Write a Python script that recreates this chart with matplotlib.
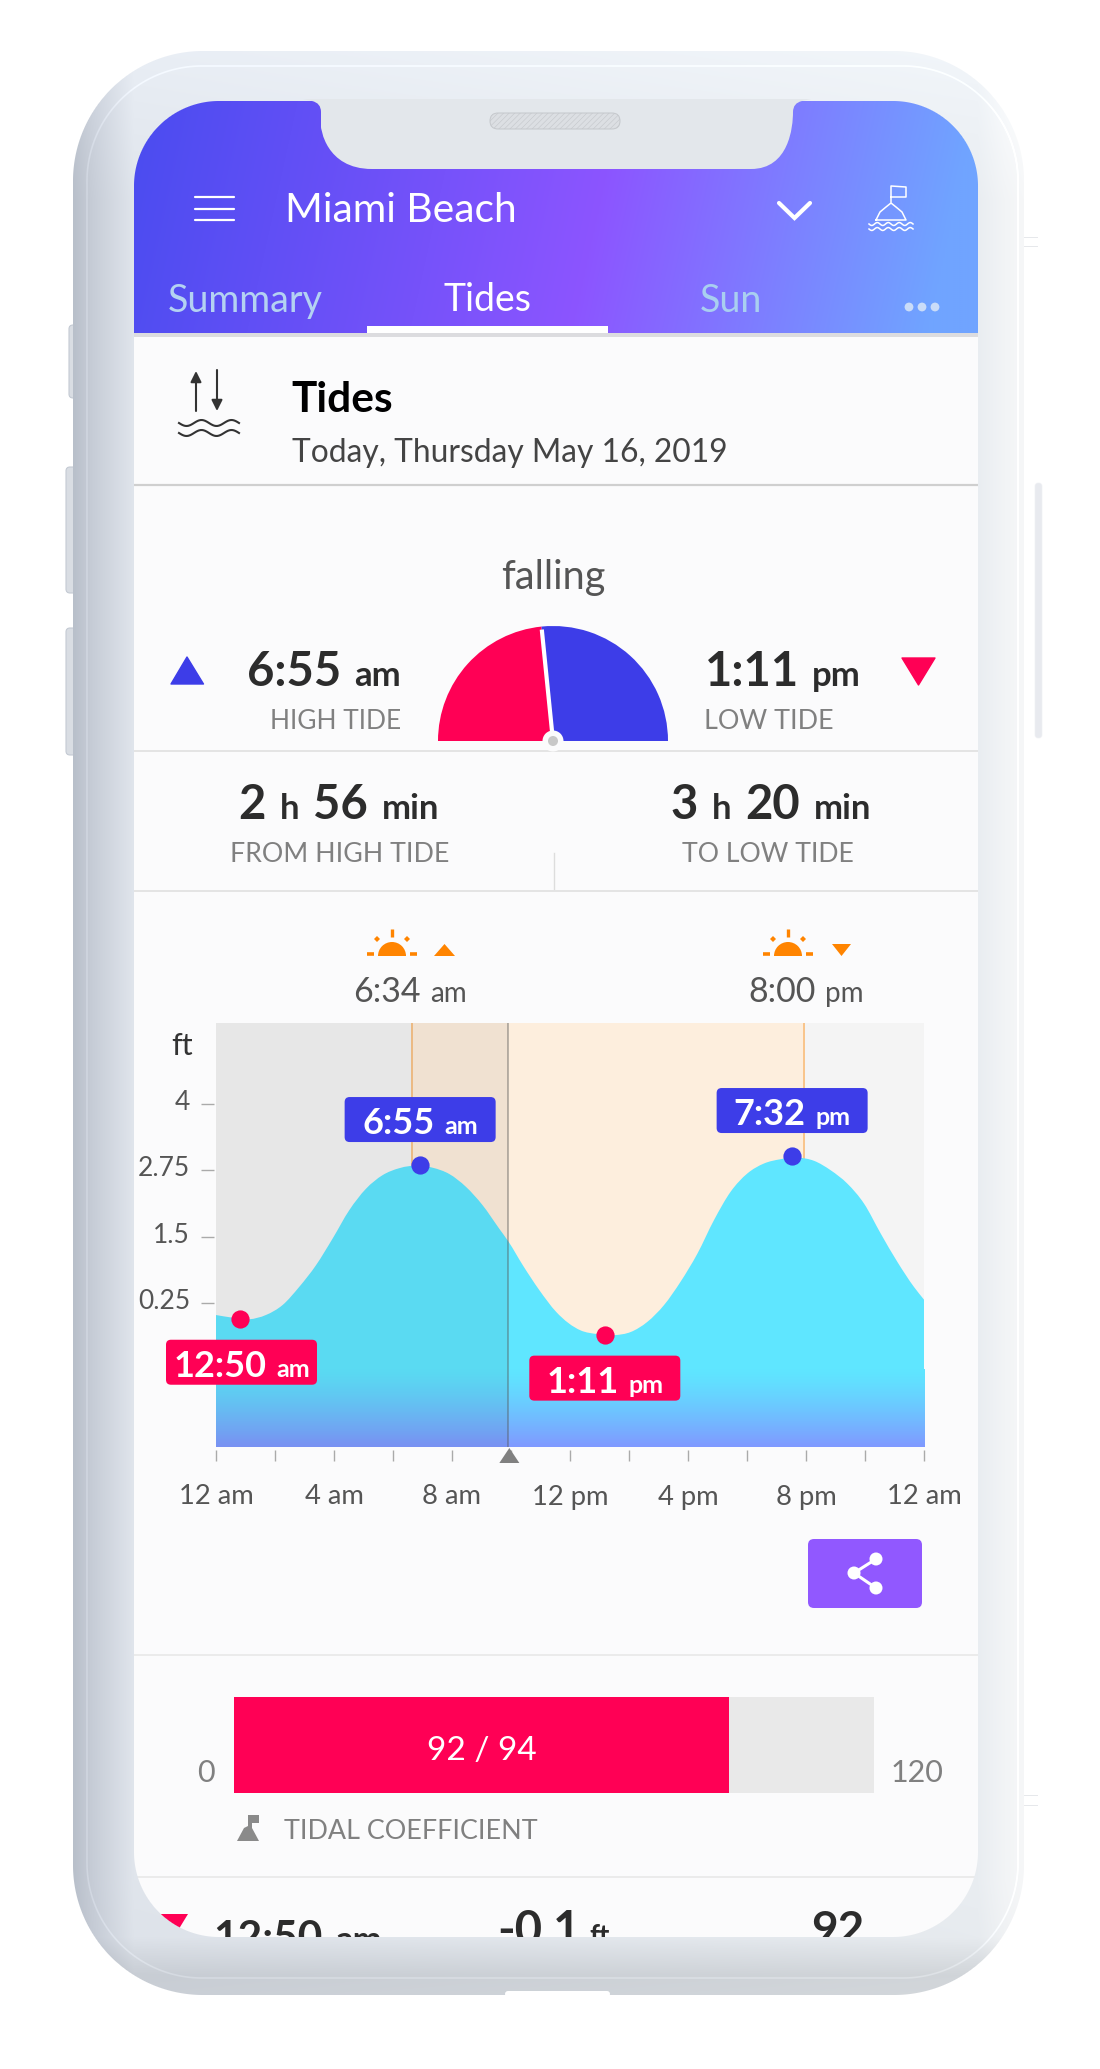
# -*- coding: utf-8 -*-
"""Tide app screen on a phone mockup, drawn in pixel coordinates plus one real chart axes."""

import numpy as np
import matplotlib
matplotlib.use("Agg")
import matplotlib.pyplot as plt
from matplotlib.patches import FancyBboxPatch, PathPatch, Polygon, Wedge, Circle, Rectangle
from matplotlib.path import Path

plt.rcParams["font.family"] = ["Lato", "DejaVu Sans"]
plt.rcParams["hatch.linewidth"] = 0.4

W, H = 1100, 2069

# --- tide curve ---
hours = [0, 0.56, 1.13, 1.69, 2.26, 2.82, 3.39, 3.95, 4.52, 5.08, 5.65, 6.21, 6.89, 7.34, 7.91,
         8.47, 9.04, 9.60, 9.92, 10.40, 10.96, 11.53, 12.36, 12.93, 13.49, 14.06, 14.62, 15.19,
         15.75, 16.32, 16.88, 17.45, 18.01, 18.58, 19.14, 19.71, 20.27, 20.84, 21.40, 21.97,
         22.53, 23.10, 23.66, 24]
tide_ft = [0.02, -0.03, -0.06, 0.02, 0.21, 0.55, 0.96, 1.46, 2.00, 2.40, 2.66, 2.79, 2.84, 2.80, 2.68,
           2.44, 2.09, 1.65, 1.40, 0.96, 0.49, 0.08, -0.27, -0.34, -0.36, -0.30, -0.11, 0.21,
           0.65, 1.18, 1.81, 2.35, 2.69, 2.88, 2.96, 2.99, 2.93, 2.75, 2.50, 2.12,
           1.56, 1.02, 0.55, 0.31]

tide_names = ["12:50", "6:55", "1:11", "7:32"]
tide_units = ["am", "am", "pm", "pm"]
tide_hours = [0.83, 6.92, 13.18, 19.53]
tide_values = [-0.05, 2.85, -0.35, 3.02]
tide_is_high = [False, True, False, True]

sunrise_hour = 6.64
sunset_hour = 19.94
now_hour = 9.91

y_ticks = [4, 2.75, 1.5, 0.25]
y_tick_labels = ["4", "2.75", "1.5", "0.25"]
x_ticks = list(range(0, 25, 2))
x_tick_labels = ["12 am", "", "4 am", "", "8 am", "", "12 pm", "", "4 pm", "", "8 pm", "", "12 am"]

from_high_min = 176
to_low_min = 200

coef_max = 120
coef_bar = 92.8

RED = "#ff0055"
BLUE = "#3d3de8"
ORANGE = "#ff8400"
PURPLE = "#9158ff"
DARK = "#2c2c2c"
GREY = "#808080"
MID = "#555555"
RULE = "#ebebeb"


def pixel_axes(zorder):
    a = fig.add_axes([0, 0, 1, 1], zorder=zorder)
    a.set_xlim(0, W)
    a.set_ylim(H, 0)
    a.axis("off")
    a.patch.set_alpha(0)
    return a


def rect_axes(x0, y0, x1, y1, zorder=2):
    return fig.add_axes([x0 / W, 1 - y1 / H, (x1 - x0) / W, (y1 - y0) / H], zorder=zorder)


def runs(ax, x, y, parts, align="left", gap=13, color=DARK, zorder=5):
    """Text pieces of different sizes on one baseline; x is the left, right or centre of the row."""
    rend = fig.canvas.get_renderer()
    items = []
    for s, size, weight in parts:
        t = ax.text(0, y, s, fontsize=size, fontweight=weight, color=color,
                    ha="left", va="baseline", zorder=zorder)
        items.append((t, t.get_window_extent(rend).width))
    total = sum(w for _, w in items) + gap * (len(items) - 1)
    cur = x
    if align == "center":
        cur = x - total / 2
    elif align == "right":
        cur = x - total
    for t, w in items:
        t.set_x(cur)
        cur += w + gap


def rule(ax, y, x0=134, x1=978, color=RULE, lw=1.4):
    ax.plot([x0, x1], [y, y], color=color, lw=lw, solid_capstyle="butt", zorder=3)


def rounded_sdf(px, py, x0, y0, x1, y1, r):
    qx = np.abs(px - (x0 + x1) / 2) - (x1 - x0) / 2 + r
    qy = np.abs(py - (y0 + y1) / 2) - (y1 - y0) / 2 + r
    return np.hypot(np.maximum(qx, 0), np.maximum(qy, 0)) + np.minimum(np.maximum(qx, qy), 0) - r


def smooth_area(xv, yv, floor):
    """Closed bezier path through the points, down to floor."""
    xv = np.asarray(xv, float)
    yv = np.asarray(yv, float)
    slope = np.gradient(yv, xv)
    verts = [(xv[0], floor), (xv[0], yv[0])]
    codes = [Path.MOVETO, Path.LINETO]
    for i in range(len(xv) - 1):
        dx = xv[i + 1] - xv[i]
        verts += [(xv[i] + dx / 3, yv[i] + slope[i] * dx / 3),
                  (xv[i + 1] - dx / 3, yv[i + 1] - slope[i + 1] * dx / 3),
                  (xv[i + 1], yv[i + 1])]
        codes += [Path.CURVE4] * 3
    verts += [(xv[-1], floor), (xv[0], floor)]
    codes += [Path.LINETO, Path.CLOSEPOLY]
    return Path(verts, codes)


def sun_icon(ax, cx, base=956):
    ax.add_patch(Wedge((cx, base), 14, 180, 360, color=ORANGE, lw=0, zorder=4))
    ax.plot([cx, cx], [929, 937], color=ORANGE, lw=2.4, solid_capstyle="butt", zorder=4)
    for dx in (-15, 15):
        ax.add_patch(Polygon([(cx + dx - 3, 939), (cx + dx, 936), (cx + dx + 3, 939), (cx + dx, 942)],
                             color=ORANGE, lw=0, zorder=4))
    ax.plot([cx - 25, cx - 18], [954, 954], color=ORANGE, lw=2.6, solid_capstyle="butt", zorder=4)
    ax.plot([cx + 18, cx + 25], [954, 954], color=ORANGE, lw=2.6, solid_capstyle="butt", zorder=4)


def wave(ax, x0, x1, y, amp, color, lw, periods=2):
    xs = np.linspace(x0, x1, 40)
    ax.plot(xs, y + amp * np.sin(np.linspace(0, 2 * np.pi * periods, 40)), color=color, lw=lw, zorder=4)


fig = plt.figure(figsize=(W / 100, H / 100), dpi=100, facecolor="white")
page = pixel_axes(1)
over = pixel_axes(4)

# side buttons behind the body
for x0, y0, x1, y1 in [(69, 325, 80, 398), (66, 467, 80, 593), (66, 628, 80, 755)]:
    page.add_patch(FancyBboxPatch((x0, y0), x1 - x0, y1 - y0, boxstyle="round,pad=0,rounding_size=4",
                                  fc="#d9dde3", ec="#c4cad3", lw=0.8, zorder=1))
page.add_patch(FancyBboxPatch((1035, 483), 7, 255, boxstyle="round,pad=0,rounding_size=3",
                              fc="#e8eaef", ec="#f0f1f4", lw=0.5, zorder=1))
for y in (237, 246, 1795, 1805):
    page.plot([1024, 1037], [y, y], color="#e6e8eb", lw=0.7, zorder=1)

# screen background and header gradient
page.add_patch(Rectangle((130, 97), 852, 1845, fc="#fbfbfc", lw=0, zorder=1))
gx, gy = np.meshgrid(np.linspace(0, 1, 424), np.linspace(0, 1, 116))
t = np.clip(gx + gy * 0.06, 0, 1)
stops = [0, 0.58, 1]
header = np.dstack([np.interp(t, stops, [0x4a, 0x8c, 0x70]),
                    np.interp(t, stops, [0x4c, 0x55, 0xa4]),
                    np.interp(t, stops, [0xf0, 0xff, 0xff])]) / 255
page.imshow(header, extent=[134, 978, 333, 101], aspect="auto", zorder=2, interpolation="bilinear")
page.set_xlim(0, W)
page.set_ylim(H, 0)
page.add_patch(Rectangle((134, 333), 844, 4, fc="#dcdcdf", lw=0, zorder=3))
page.add_patch(Rectangle((367, 326), 241, 7, fc="white", lw=0, zorder=3))

# header
for y in (197, 208.5, 220):
    page.plot([195, 234], [y, y], color="white", lw=1.6, solid_capstyle="round", zorder=4)
page.text(285, 222, "Miami Beach", color="white", fontsize=29.3, va="baseline", zorder=5)
page.plot([779, 794.5, 810], [203, 218, 203], color="white", lw=3, solid_capstyle="round",
          solid_joinstyle="miter", zorder=4)
page.plot([891, 891, 906, 906, 891], [202, 186, 187, 197, 197], color="white", lw=1.1, zorder=4)
page.plot([876, 880, 886, 891, 896, 902, 906, 876], [220, 212, 207, 203, 207, 212, 220, 220],
          color="white", lw=1.1, zorder=4)
wave(page, 869, 913, 224, 1.5, "white", 1.1, periods=4)
wave(page, 869, 913, 229, 1.5, "white", 1.1, periods=4)
page.text(168, 312, "Summary", color="#b4d2f2", fontsize=27, va="baseline", zorder=5)
page.text(443, 311, "Tides", color="white", fontsize=27, va="baseline", zorder=5)
page.text(700, 312, "Sun", color="#a9cff0", fontsize=27, va="baseline", zorder=5)
for x in (909, 922, 935):
    page.add_patch(Circle((x, 307), 4.4, fc="#cadcf8", lw=0, zorder=4))

# section title
page.annotate("", xy=(196, 371), xytext=(196, 411), zorder=4,
              arrowprops=dict(arrowstyle="-|>", color="#333333", lw=1.5, mutation_scale=16, shrinkA=0, shrinkB=0))
page.annotate("", xy=(217, 411), xytext=(217, 370), zorder=4,
              arrowprops=dict(arrowstyle="-|>", color="#333333", lw=1.5, mutation_scale=16, shrinkA=0, shrinkB=0))
wave(page, 179, 239, 423, 3, "#333333", 1.5)
wave(page, 179, 239, 433, 3, "#333333", 1.5)
page.text(291, 412, "Tides", color="black", fontsize=30.5, fontweight="bold", va="baseline", zorder=5)
page.text(292, 462, "Today, Thursday May 16, 2019", color="#444444", fontsize=22.9, va="baseline", zorder=5)
rule(page, 485, color="#cfcfcf", lw=1.6)

# falling gauge
page.text(553, 589, "falling", color=MID, fontsize=28.5, ha="center", va="baseline", zorder=5)
needle = 180 + 180 * from_high_min / (from_high_min + to_low_min)
page.add_patch(Wedge((553, 741), 115, 180, needle, fc=RED, lw=0, zorder=3))
page.add_patch(Wedge((553, 741), 115, needle, 360, fc=BLUE, lw=0, zorder=3))
page.plot([553, 553 + 112 * np.cos(np.radians(needle))], [741, 741 + 112 * np.sin(np.radians(needle))],
          color="white", lw=3, solid_capstyle="butt", zorder=4)
page.add_patch(Circle((553, 741), 10.5, fc="#fbfbfc", lw=0, zorder=4))
page.add_patch(Circle((553, 741), 5, fc="#c8c8c8", lw=0, zorder=5))
page.add_patch(Polygon([(171, 684), (187, 657), (203.5, 684)], fc=BLUE, ec=BLUE, lw=1, joinstyle="round", zorder=4))
page.add_patch(Polygon([(902, 658), (935, 658), (918.5, 685)], fc=RED, ec=RED, lw=1, joinstyle="round", zorder=4))
runs(page, 401, 686, [("6:55", 34, "bold"), ("am", 25, "bold")], align="right")
runs(page, 705, 686, [("1:11", 34, "bold"), ("pm", 25, "bold")], align="left")
page.text(401, 729, "HIGH TIDE", color=GREY, fontsize=19, ha="right", va="baseline", zorder=5)
page.text(704, 729, "LOW TIDE", color=GREY, fontsize=19.4, ha="left", va="baseline", zorder=5)
rule(page, 751, color="#e4e4e4")

# time since / until
runs(page, 339, 819, [("2", 34, "bold"), ("h", 25, "bold"), ("56", 34, "bold"), ("min", 25, "bold")],
     align="center", gap=14)
runs(page, 771, 819, [("3", 34, "bold"), ("h", 25, "bold"), ("20", 34, "bold"), ("min", 25, "bold")],
     align="center", gap=14)
page.text(340, 862, "FROM HIGH TIDE", color=GREY, fontsize=19.3, ha="center", va="baseline", zorder=5)
page.text(768, 862, "TO LOW TIDE", color=GREY, fontsize=19.2, ha="center", va="baseline", zorder=5)
page.plot([554, 554], [853, 890], color="#dddddd", lw=1, zorder=3)
rule(page, 891, color="#e4e4e4")

# sun times
sun_icon(page, 392)
page.add_patch(Polygon([(434, 956), (444.5, 944), (455, 956)], fc=ORANGE, lw=0, zorder=4))
runs(page, 353, 1002, [("6:34", 24.5, "normal"), ("am", 20, "normal")], color=MID, gap=10)
sun_icon(page, 788)
page.add_patch(Polygon([(832, 944), (851, 944), (841.5, 956)], fc=ORANGE, lw=0, zorder=4))
runs(page, 748, 1002, [("8:00", 24.5, "normal"), ("pm", 20, "normal")], color=MID, gap=10)
page.text(171, 1055, "ft", color="#333333", fontsize=22, va="baseline", zorder=5)

# the tide chart
chart = rect_axes(216, 1023, 924, 1447)
y_min, y_max = -2.47, 5.53
chart.axvspan(0, 24, color="#f4f4f4", lw=0, zorder=1)
chart.axvspan(sunrise_hour, sunset_hour, color="#fdeedd", lw=0, zorder=1)
chart.axvline(sunrise_hour, color="#f9c48a", lw=1.4, zorder=2)
chart.axvline(sunset_hour, color="#f9c48a", lw=1.4, zorder=2)
chart.add_patch(PathPatch(smooth_area(hours, tide_ft, y_min), fc="#5fe6ff", lw=0, zorder=3))
ramp = np.linspace(0, 1, 80)[:, None] ** 1.3
fade = np.dstack([np.interp(ramp, [0, 1], [0x5f, 0x80]),
                  np.interp(ramp, [0, 1], [0xe6, 0x99]),
                  np.full_like(ramp, 0xff)]) / 255
chart.imshow(fade, extent=[0, 24, y_min, -1.0], aspect="auto", origin="upper", zorder=3)
chart.axvspan(0, now_hour, color="black", alpha=0.05, lw=0, zorder=4)
chart.axvline(now_hour, color="#555555", alpha=0.4, lw=1.4, zorder=5)
for h, v, high in zip(tide_hours, tide_values, tide_is_high):
    chart.scatter([h], [v], s=172, color=BLUE if high else RED, lw=0, zorder=6, clip_on=False)
chart.set_xlim(0, 24)
chart.set_ylim(y_min, y_max)
chart.set_xticks(x_ticks, x_tick_labels)
chart.set_yticks(y_ticks, [""] * len(y_ticks))
chart.tick_params(axis="x", length=8, width=1, color="#aaaaaa", pad=17, labelsize=19.7, labelcolor=MID)
chart.tick_params(axis="y", length=9.5, width=1, color="#aaaaaa")
for side, sp in chart.spines.items():
    sp.set_visible(False)
chart.spines["bottom"].set_position(("outward", 2))
chart.spines["left"].set_position(("outward", 1.5))

# the reference sets these labels a little above their ticks
for v, label in zip(y_ticks, y_tick_labels):
    ty = over.transData.inverted().transform(chart.transData.transform((0, v)))[1]
    over.text(190, ty + 6, label, color=MID, fontsize=19, ha="right", va="baseline")

# tide labels sit above the chart axes, they hang over its edge
for name, unit, h, v, high in zip(tide_names, tide_units, tide_hours, tide_values, tide_is_high):
    px, py = over.transData.inverted().transform(chart.transData.transform((h, v)))
    top = py - 68 if high else py + 21
    box_x = max(px - 75.5, 166)
    over.add_patch(FancyBboxPatch((box_x, top), 151, 45, boxstyle="round,pad=0,rounding_size=5",
                                  fc=BLUE if high else RED, lw=0, zorder=3))
    runs(over, box_x + 75.5, top + 37, [(name, 26, "bold"), (unit, 18, "bold")], align="center",
         gap=10, color="white")

# now marker under the axis
mx = over.transData.inverted().transform(chart.transData.transform((now_hour, 0)))[0]
over.add_patch(Polygon([(mx - 9, 1463), (mx + 1, 1448), (mx + 11, 1463)], fc=GREY, lw=0, zorder=3))

# share button
page.add_patch(FancyBboxPatch((808, 1539), 114, 69, boxstyle="round,pad=0,rounding_size=6", fc=PURPLE, lw=0, zorder=3))
page.plot([876, 854, 876], [1559, 1573, 1588], color="white", lw=2.2, zorder=4)
for x, y in [(876, 1559), (854, 1573), (876, 1588)]:
    page.add_patch(Circle((x, y), 6.5, fc="white", lw=0, zorder=4))
rule(page, 1655)

# tidal coefficient bar
coef = rect_axes(234, 1697, 874, 1793)
coef.barh(0, coef_max, height=1, color="#e9e9e9", lw=0)
coef.barh(0, coef_bar, height=1, color=RED, lw=0)
coef.set_xlim(0, coef_max)
coef.set_ylim(-0.5, 0.5)
coef.axis("off")
over.text(482, 1760, "92 / 94", color="white", fontsize=24, ha="center", va="baseline")
page.text(197, 1782, "0", color=GREY, fontsize=22, va="baseline", zorder=5)
page.text(891, 1782, "120", color=GREY, fontsize=22, va="baseline", zorder=5)
page.add_patch(Polygon([(248, 1815), (259, 1815), (259, 1823), (252, 1823), (252, 1828), (259, 1841),
                        (237, 1841), (244, 1828), (248, 1826)], fc="#8a8a8a", lw=0, zorder=4))
page.text(284, 1839, "TIDAL COEFFICIENT", color=GREY, fontsize=19.4, va="baseline", zorder=5)
rule(page, 1877)

# bottom row is cut off by the bezel
page.add_patch(Polygon([(155, 1914), (188, 1914), (171.5, 1941)], fc=RED, lw=0, zorder=4))
runs(page, 213, 1951, [("12:50", 30.5, "bold"), ("am", 25, "bold")], gap=13)
runs(page, 497, 1945, [("-0.1", 34, "bold"), ("ft", 20, "bold")], gap=9)
page.text(811, 1944, "92", color=DARK, fontsize=33, fontweight="bold", va="baseline", zorder=5)

# phone body with screen cut out, antialiased from distance fields
bx0, by0, bx1, by1 = 73, 51, 1024, 1995
xs = np.arange(bx0, bx1) + 0.5
ys = np.arange(by0, by1) + 0.5
px, py = np.meshgrid(xs, ys)
x_stops = [73, 87, 95, 134, 978, 1005, 1024]
shade = np.dstack([np.interp(px, x_stops, [0xb8, 0xc3, 0xc8, 0xe0, 0xe9, 0xf2, 0xf6]),
                   np.interp(px, x_stops, [0xbf, 0xc9, 0xce, 0xe5, 0xed, 0xf4, 0xf7]),
                   np.interp(px, x_stops, [0xca, 0xd3, 0xd8, 0xec, 0xf1, 0xf6, 0xf8])])
shade = shade + np.interp(py, [51, 101, 200, 1880, 1937, 1975, 1995], [9, 6, 0, 0, -2, -24, -22])[:, :, None]
edge = rounded_sdf(px, py, 87, 66, 1018, 1978, 115)
shade = shade + (np.clip(1.3 - np.abs(edge), 0, 1) * 13)[:, :, None]
alpha = np.clip(0.5 - rounded_sdf(px, py, bx0, by0, bx1, by1, 130), 0, 1) \
    * np.clip(0.5 + rounded_sdf(px, py, 134, 101, 978, 1937, 85), 0, 1)
body = np.dstack([np.clip(shade, 0, 255) / 255, alpha])
over.imshow(body, extent=[bx0, bx1, by1, by0], aspect="auto", interpolation="nearest", zorder=6)
over.set_xlim(0, W)
over.set_ylim(H, 0)
over.add_patch(FancyBboxPatch((505, 1991), 105, 6, boxstyle="round,pad=0,rounding_size=3", fc="white", lw=0, zorder=7))

# notch and speaker
notch = Path([(303, 99), (312, 101), (321, 103), (321, 112), (321, 127), (321, 127), (325, 169), (372, 169),
              (751, 169), (789, 169), (793, 127), (793, 112), (793, 103), (802, 101), (811, 99), (303, 99)],
             [Path.MOVETO, Path.LINETO, Path.CURVE3, Path.CURVE3, Path.LINETO, Path.CURVE4, Path.CURVE4, Path.CURVE4,
              Path.LINETO, Path.CURVE4, Path.CURVE4, Path.CURVE4, Path.CURVE3, Path.CURVE3, Path.LINETO, Path.CLOSEPOLY])
over.add_patch(PathPatch(notch, fc="#e3e7eb", lw=0, zorder=7))
over.add_patch(FancyBboxPatch((490, 113), 130, 16, boxstyle="round,pad=0,rounding_size=8", fc="#dcdfe3",
                              ec="#c4c7cb", lw=0.7, hatch="//////", zorder=8))

fig.savefig("out.png", dpi=100)
